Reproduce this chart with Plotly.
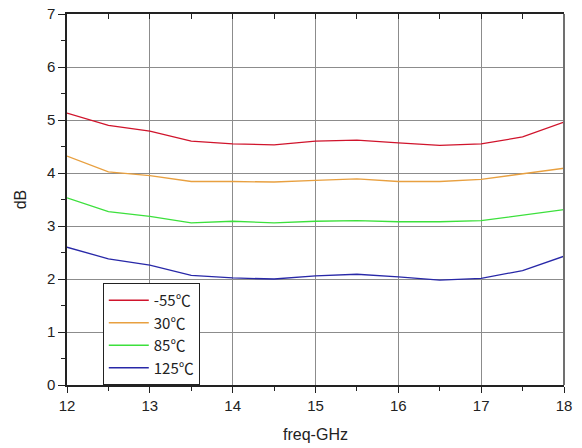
import plotly.graph_objects as go

freq = [12, 12.5, 13, 13.5, 14, 14.5, 15, 15.5, 16, 16.5, 17, 17.5, 18]
db_m55 = [5.13, 4.90, 4.79, 4.60, 4.55, 4.53, 4.60, 4.62, 4.57, 4.52, 4.55, 4.68, 4.96]
db_30 = [4.32, 4.02, 3.95, 3.84, 3.84, 3.83, 3.86, 3.89, 3.84, 3.84, 3.88, 3.98, 4.09]
db_85 = [3.53, 3.27, 3.18, 3.06, 3.09, 3.06, 3.09, 3.10, 3.08, 3.08, 3.10, 3.20, 3.31]
db_125 = [2.60, 2.38, 2.26, 2.07, 2.02, 2.00, 2.06, 2.09, 2.04, 1.98, 2.01, 2.16, 2.43]

names = ["-55℃", "30℃", "85℃", "125℃"]
colors = ["#d0142c", "#e8a040", "#3ce03c", "#2828a8"]
series = [db_m55, db_30, db_85, db_125]

fig = go.Figure()
for name, col, ys in zip(names, colors, series):
    fig.add_trace(go.Scatter(x=freq, y=ys, mode="lines", name=name,
                             line=dict(color=col, width=1.3)))

# invisible trace to carry the top mirror axis
fig.add_trace(go.Scatter(x=freq, y=db_m55, xaxis="x2", mode="lines",
                         line=dict(width=0), showlegend=False, hoverinfo="skip",
                         opacity=0))

font = "Liberation Sans, Arial, sans-serif"
fig.update_layout(
    width=582, height=448,
    margin=dict(l=67, r=18, t=14, b=63),
    paper_bgcolor="white", plot_bgcolor="white",
    font=dict(family=font, size=15, color="#222"),
    showlegend=True,
    legend=dict(x=0.072, y=0.275, xanchor="left", yanchor="top",
                bgcolor="white", bordercolor="#222", borderwidth=1,
                font=dict(family="Noto Sans CJK SC", size=15, color="#222"),
                tracegroupgap=0, itemwidth=40),
    xaxis=dict(range=[12, 18], dtick=1, tick0=12, showgrid=True,
               gridcolor="#8c8c8c", gridwidth=1, automargin=False,
               showline=True, linecolor="#222", linewidth=1.5,
               ticks="outside", ticklen=6, tickcolor="#222",
               minor=dict(dtick=0.5, ticks="outside", ticklen=4, tickcolor="#222",
                          showgrid=False),
               title=dict(text="freq-GHz", font=dict(size=16), standoff=16),
               zeroline=False),
    xaxis2=dict(range=[12, 18], dtick=1, tick0=12, overlaying="x", side="top",
                showgrid=False, showline=True, linecolor="#222", linewidth=1.5,
                ticks="inside", ticklen=5, tickcolor="#222", automargin=False,
                minor=dict(dtick=0.5, ticks="inside", ticklen=5, tickcolor="#222"),
                showticklabels=False, zeroline=False),
    yaxis=dict(range=[0, 7], dtick=1, showgrid=True,
               gridcolor="#8c8c8c", gridwidth=1, automargin=False,
               showline=True, linecolor="#222", linewidth=1.5,
               ticks="outside", ticklen=7, tickcolor="#222",
               minor=dict(dtick=0.5, ticks="outside", ticklen=4, tickcolor="#222",
                          showgrid=False),
               title=dict(text="dB", font=dict(size=16), standoff=16),
               zeroline=False),
    shapes=[dict(type="line", xref="paper", yref="paper", x0=1, x1=1, y0=0, y1=1,
                 line=dict(color="#707070", width=2))],
)

fig.write_html("out.html")
